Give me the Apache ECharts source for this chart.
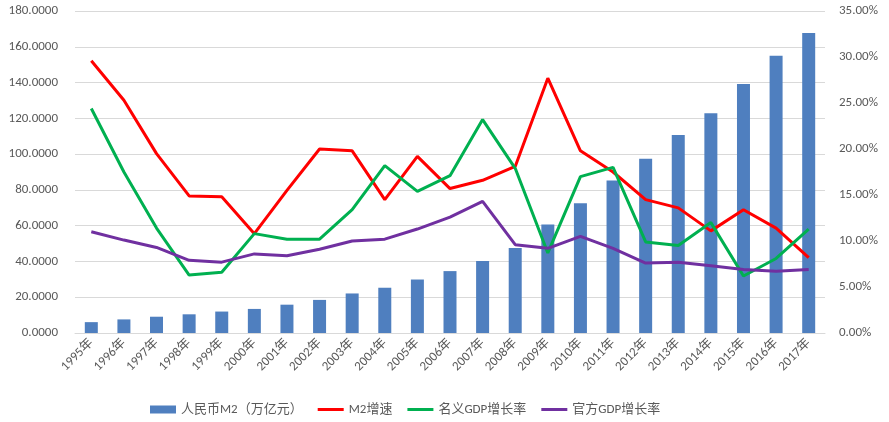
<!DOCTYPE html>
<html>
<head>
<meta charset="utf-8">
<script src="https://cdn.jsdelivr.net/npm/echarts@6/dist/echarts.min.js"></script>
<style>
  html, body { margin: 0; padding: 0; background: #fff; }
  #chart { width: 889px; height: 422px; }
</style>
</head>
<body>
<div id="chart"></div>
<script>
// 年份
const years = ['1995年','1996年','1997年','1998年','1999年','2000年','2001年','2002年','2003年','2004年','2005年','2006年',
  '2007年','2008年','2009年','2010年','2011年','2012年','2013年','2014年','2015年','2016年','2017年']
// 人民币M2（万亿元）
const m2 = [6.07, 7.6, 9.1, 10.45, 11.99, 13.46, 15.83, 18.5, 22.1, 25.3, 29.9, 34.6,
  40.3, 47.5, 60.6, 72.6, 85.2, 97.4, 110.7, 122.8, 139.2, 155.0, 167.7]
// M2增速 (%)
const m2Growth = [29.6, 25.3, 19.5, 14.9, 14.8, 10.8, 15.5, 20.0, 19.8, 14.5, 19.2, 15.7,
  16.6, 18.1, 27.7, 19.8, 17.5, 14.5, 13.6, 11.1, 13.4, 11.4, 8.2]
// 名义GDP增长率 (%)
const nominalGdp = [24.4, 17.5, 11.4, 6.3, 6.6, 10.8, 10.2, 10.2, 13.4, 18.2, 15.4, 17.1,
  23.2, 17.9, 8.7, 17.0, 18.0, 9.9, 9.5, 12.0, 6.2, 8.1, 11.3]
// 官方GDP增长率 (%)
const officialGdp = [11.0, 10.1, 9.3, 7.9, 7.7, 8.6, 8.4, 9.1, 10.0, 10.2, 11.3, 12.6,
  14.3, 9.6, 9.2, 10.5, 9.2, 7.6, 7.7, 7.3, 6.9, 6.7, 6.9]

const txt = '#595959'
const font = 'Calibri, "Liberation Sans", "Noto Sans CJK SC", sans-serif'
// 细线图例图标（上下留空，使线条变细）
const lineIcon = 'path://M0,0L0.01,0L0,0Z M0,2.5H26V5.5H0Z M0,8L0.01,8L0,8Z'

const myChart = echarts.init(document.getElementById('chart'))
myChart.setOption({
  backgroundColor: '#fff',
  animation: false,
  grid: { left: 75, right: 64, top: 11, bottom: 89 },
  legend: {
    bottom: 1,
    left: 145,
    itemWidth: 26,
    itemHeight: 8,
    itemGap: 15,
    textStyle: { color: txt, fontSize: 13, fontFamily: font },
    data: [
      { name: '人民币M2（万亿元）', icon: 'rect' },
      { name: 'M2增速', icon: lineIcon },
      { name: '名义GDP增长率', icon: lineIcon },
      { name: '官方GDP增长率', icon: lineIcon }
    ]
  },
  xAxis: {
    type: 'category',
    data: years,
    axisLine: { lineStyle: { color: '#d9d9d9' } },
    axisTick: { show: false },
    axisLabel: { rotate: 45, color: txt, fontSize: 13, fontFamily: font, margin: 8 }
  },
  yAxis: [
    {
      type: 'value',
      min: 0, max: 180, interval: 20,
      axisLine: { show: false },
      axisTick: { show: false },
      splitLine: { lineStyle: { color: '#d9d9d9', width: 1 } },
      axisLabel: { color: txt, fontSize: 13, fontFamily: font, margin: 17,
        formatter: v => v.toFixed(4) }
    },
    {
      type: 'value',
      min: 0, max: 35, interval: 5,
      axisLine: { show: false },
      axisTick: { show: false },
      splitLine: { show: false },
      axisLabel: { color: txt, fontSize: 13, fontFamily: font, margin: 14,
        formatter: v => v.toFixed(2) + '%' }
    }
  ],
  series: [
    {
      name: '人民币M2（万亿元）',
      type: 'bar',
      barWidth: 13,
      itemStyle: { color: '#4f7fbf' },
      data: m2
    },
    {
      name: 'M2增速',
      type: 'line',
      yAxisIndex: 1,
      symbol: 'none',
      lineStyle: { color: '#ff0000', width: 3 },
      itemStyle: { color: '#ff0000' },
      data: m2Growth
    },
    {
      name: '名义GDP增长率',
      type: 'line',
      yAxisIndex: 1,
      symbol: 'none',
      lineStyle: { color: '#00b050', width: 3 },
      itemStyle: { color: '#00b050' },
      data: nominalGdp
    },
    {
      name: '官方GDP增长率',
      type: 'line',
      yAxisIndex: 1,
      symbol: 'none',
      lineStyle: { color: '#7030a0', width: 3 },
      itemStyle: { color: '#7030a0' },
      data: officialGdp
    }
  ]
})
</script>
</body>
</html>
